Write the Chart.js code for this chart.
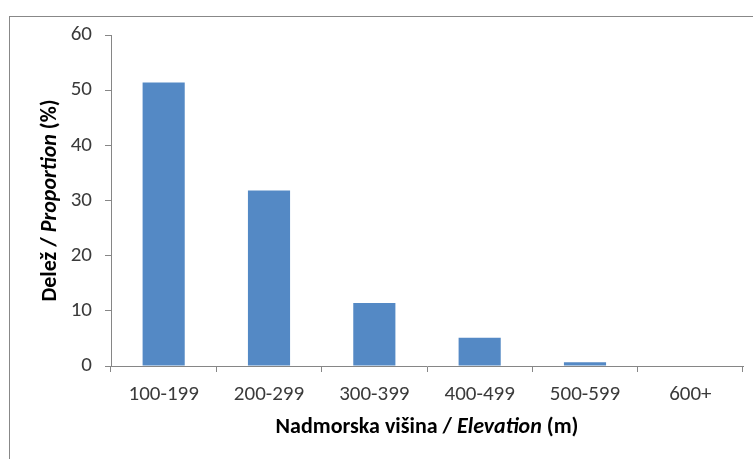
<!DOCTYPE html>
<html>
<head>
<meta charset="utf-8">
<script src="https://cdn.jsdelivr.net/npm/chart.js@4.4.0/dist/chart.umd.min.js"></script>
<style>
  html, body { margin: 0; padding: 0; background: #fff; }
  #wrap { width: 753px; height: 459px; }
</style>
</head>
<body>
<div id="wrap"><canvas id="myChart" width="753" height="459"></canvas></div>
<script>
// data
const categories = ['100-199', '200-299', '300-399', '400-499', '500-599', '600+'];
const proportions = [51.4, 31.8, 11.4, 5.1, 0.7, 0];
const yTicks = [0, 10, 20, 30, 40, 50, 60];

// axis titles: [text, italic]
const xTitleParts = [['Nadmorska višina / ', false], ['Elevation', true], [' (m)', false]];
const yTitleParts = [['Delež / ', false], ['Proportion', true], [' (%)', false]];

const FONT = 'Carlito, Lato, sans-serif';
const axisGray = '#868686';

function drawParts(ctx, parts, x, y, rot, size) {
    ctx.save();
    ctx.translate(x, y);
    ctx.rotate(rot);
    ctx.textBaseline = 'middle';
    ctx.fillStyle = '#000';
    const fonts = parts.map(p => (p[1] ? 'italic ' : '') + 'bold ' + size + 'px ' + FONT);
    let total = 0;
    const widths = parts.map((p, i) => {
        ctx.font = fonts[i];
        const w = ctx.measureText(p[0]).width;
        total += w;
        return w;
    });
    let cx = -total / 2;
    parts.forEach((p, i) => {
        ctx.font = fonts[i];
        ctx.textAlign = 'left';
        ctx.fillText(p[0], cx, 0);
        cx += widths[i];
    });
    ctx.restore();
}

const frameAndTitles = {
    id: 'frameAndTitles',
    beforeDraw(chart) {
        const ctx = chart.ctx;
        ctx.save();
        ctx.strokeStyle = '#888888';
        ctx.lineWidth = 1;
        ctx.strokeRect(9.5, 16.5, 800, 500);
        ctx.restore();
    },
    afterDraw(chart) {
        const { ctx, chartArea } = chart;
        drawParts(ctx, xTitleParts, (chartArea.left + chartArea.right) / 2, chartArea.bottom + 61, 0, 22);
        drawParts(ctx, yTitleParts, chartArea.left - 61, (chartArea.top + chartArea.bottom) / 2, -Math.PI / 2, 22);
    }
};

const ctx = document.getElementById('myChart').getContext('2d');
window.myChart = new Chart(ctx, {
    type: 'bar',
    data: {
        labels: categories,
        datasets: [{
            label: 'Delež',
            data: proportions,
            backgroundColor: '#5489C5',
            borderWidth: 0,
            categoryPercentage: 1,
            barPercentage: 0.4
        }]
    },
    options: {
        responsive: false,
        animation: false,
        layout: { padding: { left: 10, right: 10, top: 35, bottom: 0 } },
        plugins: {
            legend: { display: false },
            tooltip: { enabled: false }
        },
        scales: {
            x: {
                grid: { drawOnChartArea: false, drawTicks: true, tickLength: 6, color: axisGray, offset: true },
                border: { color: axisGray, width: 1 },
                ticks: { color: '#3a3a3a', font: { family: FONT, size: 21 }, padding: 10, maxRotation: 0 },
                afterFit(scale) { scale.height = 93; }
            },
            y: {
                min: 0,
                max: 60,
                afterBuildTicks(scale) { scale.ticks = yTicks.map(v => ({ value: v })); },
                grid: { drawOnChartArea: false, drawTicks: true, tickLength: 6, color: axisGray },
                border: { color: axisGray, width: 1 },
                ticks: { color: '#3a3a3a', font: { family: FONT, size: 21 }, padding: 13 },
                afterFit(scale) { scale.width = 101; }
            }
        }
    },
    plugins: [frameAndTitles]
});
</script>
</body>
</html>
